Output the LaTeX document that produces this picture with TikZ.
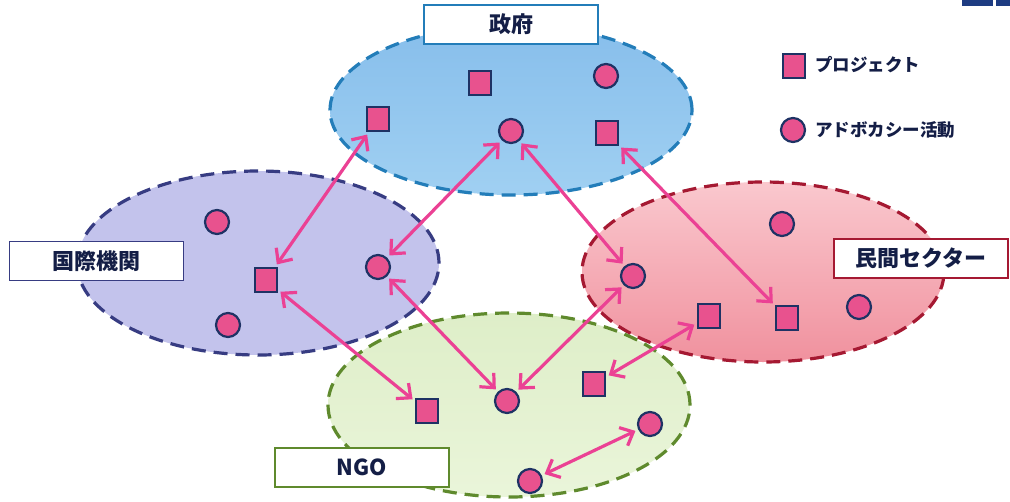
\documentclass[tikz,border=0pt]{standalone}
\usepackage{fontspec}
\newfontfamily\jp{Noto Sans CJK JP}
\usetikzlibrary{shapes.geometric,arrows.meta}
\definecolor{govfill}{RGB}{160,208,242}
\definecolor{govtop}{RGB}{135,190,235}
\definecolor{govedge}{RGB}{35,125,185}
\definecolor{intlfill}{RGB}{195,195,236}
\definecolor{intledge}{RGB}{55,60,130}
\definecolor{privtop}{RGB}{250,200,206}
\definecolor{privbot}{RGB}{240,145,158}
\definecolor{privedge}{RGB}{165,25,50}
\definecolor{ngotop}{RGB}{222,238,200}
\definecolor{ngobot}{RGB}{234,245,218}
\definecolor{ngoedge}{RGB}{95,138,45}
\definecolor{elemfill}{RGB}{232,82,142}
\definecolor{elemedge}{RGB}{30,50,100}
\definecolor{linkpink}{RGB}{235,65,148}
\definecolor{navytext}{RGB}{20,30,70}
\definecolor{cornerblue}{RGB}{30,60,130}
\begin{document}
\begin{tikzpicture}[x=1pt,y=-1pt,
  group/.style={ellipse, draw, dash pattern=on 14pt off 8pt, line width=3.2pt, inner sep=0pt, minimum width=362pt},
  proj/.style={rectangle, draw=elemedge, fill=elemfill, line width=2.2pt, minimum width=22pt, minimum height=24pt, inner sep=0pt},
  adv/.style={circle, draw=elemedge, fill=elemfill, line width=2.2pt, minimum size=24pt, inner sep=0pt},
  link/.style={draw=linkpink, line width=3.2pt, {Straight Barb[length=11pt,width=20pt]}-{Straight Barb[length=11pt,width=20pt]}, shorten <=3pt, shorten >=3pt},
  lbl/.style={draw, fill=white, line width=1.4pt, minimum width=174pt, minimum height=39pt, inner sep=0pt, font=\jp\bfseries\fontsize{22}{26}\selectfont, text=navytext},
  legtext/.style={anchor=west, inner sep=0pt, font=\jp\bfseries\fontsize{17.5}{20}\selectfont, text=navytext}
]
\useasboundingbox (0,0) rectangle (1010,501);
\fill[white] (0,0) rectangle (1010,501);
% corner fragment
\fill[cornerblue] (962,0) rectangle (993,6);
\fill[cornerblue] (996,0) rectangle (1010,6);
% groups
\node[group, draw=intledge, fill=intlfill, minimum height=184pt] (intl) at (258,263) {};
\node[group, draw=privedge, top color=privtop, bottom color=privbot, minimum height=180pt] (priv) at (763,272) {};
\node[group, draw=ngoedge, top color=ngotop, bottom color=ngobot, minimum height=184pt] (ngo) at (509,405) {};
\node[group, draw=govedge, top color=govtop, bottom color=govfill, minimum height=170pt] (gov) at (511,110) {};
% labels
\node[lbl, draw=govedge] (govlbl) at (511,24.5) {政府};
\node[lbl, draw=intledge] (intllbl) at (96.5,261) {国際機関};
\node[lbl, draw=privedge] (privlbl) at (921,258.5) {民間セクター};
\node[lbl, draw=ngoedge] (ngolbl) at (362,467.5) {NGO};
% legend
\node[proj] (legp) at (794,66) {};
\node[legtext] (legpt) at (815,65) {プロジェクト};
\node[adv] (lega) at (793,130) {};
\node[legtext] (legat) at (815,130) {アドボカシー活動};
% government elements
\node[proj] (g1) at (480,83) {};
\node[adv]  (g2) at (606,76) {};
\node[proj] (g3) at (378,119) {};
\node[adv]  (g4) at (511,131) {};
\node[proj] (g5) at (607,133) {};
% international elements
\node[adv]  (i1) at (217,222) {};
\node[proj] (i2) at (266,280) {};
\node[adv]  (i3) at (378,267) {};
\node[adv]  (i4) at (228,325) {};
% private elements
\node[adv]  (p1) at (782,224) {};
\node[adv]  (p2) at (633,276) {};
\node[proj] (p3) at (709,316) {};
\node[proj] (p4) at (787,318) {};
\node[adv]  (p5) at (859,307) {};
% NGO elements
\node[proj] (n1) at (427,411) {};
\node[adv]  (n2) at (507,401) {};
\node[proj] (n3) at (594,384) {};
\node[adv]  (n4) at (650,424) {};
\node[adv]  (n5) at (530,481) {};
% links
\draw[link] (g3) -- (i2);
\draw[link] (g4) -- (i3);
\draw[link] (g4) -- (p2);
\draw[link] (g5) -- (p4);
\draw[link] (i2) -- (n1);
\draw[link] (i3) -- (n2);
\draw[link] (p2) -- (n2);
\draw[link] (p3) -- (n3);
\draw[link] (n4) -- (n5);
\end{tikzpicture}
\end{document}
